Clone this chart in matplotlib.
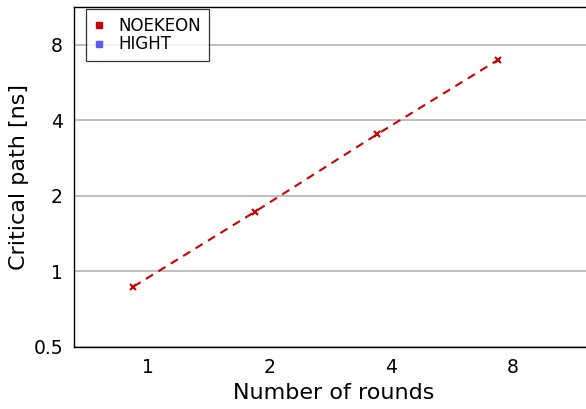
import numpy as np
import matplotlib
matplotlib.use("Agg")
import matplotlib.pyplot as plt
from matplotlib.ticker import FixedLocator, FixedFormatter, NullLocator
from matplotlib.transforms import ScaledTranslation
from matplotlib.lines import Line2D

rounds = [1, 2, 4, 8]
noekeon_path = [0.87, 1.73, 3.51, 6.97]
series_names = ["NOEKEON", "HIGHT"]
series_colors = ["#cc0000", "#5a5aff"]
x_ticks = [1, 2, 4, 8]
y_ticks = [0.5, 1, 2, 4, 8]

DPI = 100
fig = plt.figure(figsize=(5.86, 4.09), dpi=DPI)
ax = fig.add_axes([74 / 586, 1 - 347 / 409, 520 / 586, 340 / 409])

ax.set_xscale("log", base=2)
ax.set_yscale("log", base=2)
ax.set_xlim(0.656, 12.7)
ax.set_ylim(0.5, 11.3)

# points are shifted left like a grouped-bar offset
shift = ax.transData + ScaledTranslation(-14.5 / DPI, 0, fig.dpi_scale_trans)
ax.plot(rounds, noekeon_path, color=series_colors[0], linestyle=(0, (4, 3)),
        linewidth=1.5, marker="x", markersize=5, markeredgewidth=1.5,
        transform=shift, zorder=3)

ax.yaxis.set_major_locator(FixedLocator(y_ticks))
ax.yaxis.set_major_formatter(FixedFormatter([str(v) for v in y_ticks]))
ax.yaxis.set_minor_locator(NullLocator())
ax.xaxis.set_major_locator(FixedLocator(x_ticks))
ax.xaxis.set_major_formatter(FixedFormatter([str(v) for v in x_ticks]))
ax.xaxis.set_minor_locator(NullLocator())
ax.tick_params(axis="both", length=0, labelsize=13.5, pad=8)
ax.grid(axis="y", color="#b4b4b4", linewidth=1.2)
ax.set_axisbelow(True)

for s in ax.spines.values():
    s.set_linewidth(1.0)
ax.spines["right"].set_visible(False)

ax.set_xlabel("Number of rounds", fontsize=16, labelpad=4)
ax.set_ylabel("Critical path [ns]", fontsize=16)
ax.yaxis.set_label_coords(-0.087, 0.5)

handles = [Line2D([], [], linestyle="none", marker="s", markersize=4.5,
                  color=c) for c in series_colors]
leg = ax.legend(handles, series_names, loc="upper left", fontsize=12,
                frameon=True, fancybox=False, edgecolor="black",
                handlelength=0.7, handletextpad=0.8, borderpad=0.45,
                labelspacing=0.05, borderaxespad=0,
                bbox_to_anchor=(0.023, 0.994))
leg.get_frame().set_linewidth(0.9)

fig.savefig("out.png", dpi=DPI)
